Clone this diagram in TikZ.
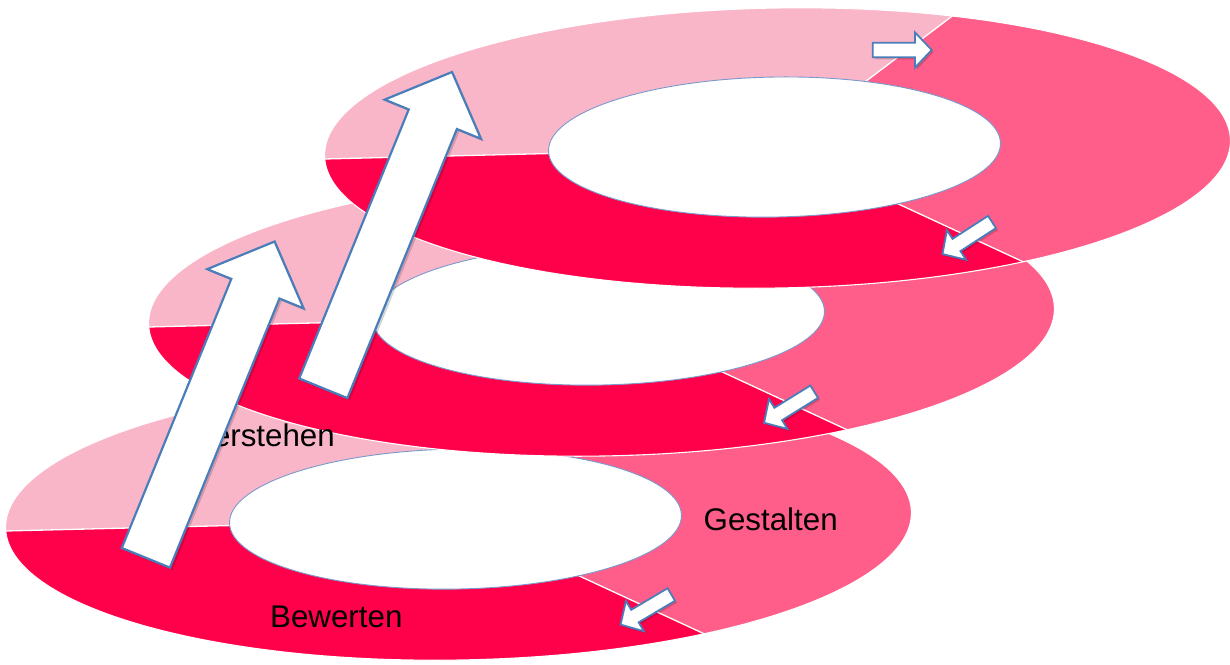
\documentclass[tikz,border=0pt]{standalone}
\usepackage{fontspec}
\setmainfont{Liberation Sans}
\definecolor{ringlight}{HTML}{FAB6C9}
\definecolor{ringmid}{HTML}{FE5E89}
\definecolor{ringdark}{HTML}{FF004A}
\definecolor{arrowline}{HTML}{4A7EBB}
\definecolor{holeline}{HTML}{7A98CC}
\begin{document}
\begin{tikzpicture}[x=1pt,y=1pt,
  sepline/.style={draw=white,line width=1.3pt},
  rimline/.style={draw=white,line width=1.1pt},
  hole/.style={fill=white,draw=holeline,line width=0.9pt},
  arrowbody/.style={fill=white,draw=arrowline,line width=2.2pt,line join=miter},
  smallbody/.style={fill=white,draw=arrowline,line width=1.8pt,line join=miter},
  arrowshade/.style={fill=black,opacity=0.16},
  stagelabel/.style={font=\fontsize{31.3}{36}\selectfont,text=black,inner sep=0pt},
  % one stage: an elliptic ring cut into three sectors
  ring/.pic={
    \begin{scope}
      \path[clip,rotate=1] (0,0) ellipse [x radius=453, y radius=140];
      \fill[ringlight] (0,0) -- (678,512) -- (-2000,2000) -- (-1812,-44) -- cycle;
      \fill[ringdark] (0,0) -- (-1812,-44) -- (-2000,-2000) -- (2000,-2000) -- (1010,-468) -- cycle;
      \fill[ringmid] (0,0) -- (1010,-468) -- (2000,0) -- (678,512) -- cycle;
      \path[sepline] (0,0) -- (-1812,-44);
      \path[sepline] (0,0) -- (678,512);
      \path[sepline] (0,0) -- (1010,-468);
    \end{scope}
    \path[rimline,rotate=1] (0,0) ellipse [x radius=453, y radius=140];
    \path[hole,rotate=1] (-3,1) ellipse [x radius=226, y radius=70];
  },
  bigarrow/.pic={
    \path[#1] (0,-26) -- (290.5,-26) -- (290.5,-52) -- (341.5,0)
      -- (290.5,52) -- (290.5,26) -- (0,26) -- cycle;
  },
  smallarrow/.pic={
    \path[#1] (0,-7.3) -- (42.3,-7.3) -- (42.3,-17.6) -- (59,0)
      -- (42.3,17.6) -- (42.3,7.3) -- (0,7.3) -- cycle;
  }
]
\useasboundingbox (0,0) rectangle (1230,664);

% three stages, lowest first
\pic at (458.5,144) {ring};
\pic at (601.5,348) {ring};
\pic at (777.5,516) {ring};

% stage labels
\node[stagelabel,anchor=base east] (verstehen) at (335,217) {Verstehen};
\node[stagelabel,anchor=base west] (gestalten) at (703.5,134) {Gestalten};
\node[stagelabel,anchor=base west] (bewerten) at (270,37) {Bewerten};

% rising arrows between the stages
\pic[rotate=67.85] at (148.3,103.7) {bigarrow=arrowshade};
\pic[rotate=67.85] at (145.85,106.2) {bigarrow=arrowbody};
\pic[rotate=67.85] at (325.8,273.2) {bigarrow=arrowshade};
\pic[rotate=67.85] at (323.3,275.7) {bigarrow=arrowbody};

% small arrows along each ring
\pic at (874.7,612) {smallarrow=arrowshade};
\pic at (872.7,614) {smallarrow=smallbody};
\pic[rotate=212.9] at (994,440) {smallarrow=arrowshade};
\pic[rotate=212.9] at (992,442) {smallarrow=smallbody};
\pic[rotate=211.8] at (816.2,270.3) {smallarrow=arrowshade};
\pic[rotate=211.8] at (814.2,272.3) {smallarrow=smallbody};
\pic[rotate=210.7] at (673.3,67.5) {smallarrow=arrowshade};
\pic[rotate=210.7] at (671.3,69.5) {smallarrow=smallbody};
\end{tikzpicture}
\end{document}
